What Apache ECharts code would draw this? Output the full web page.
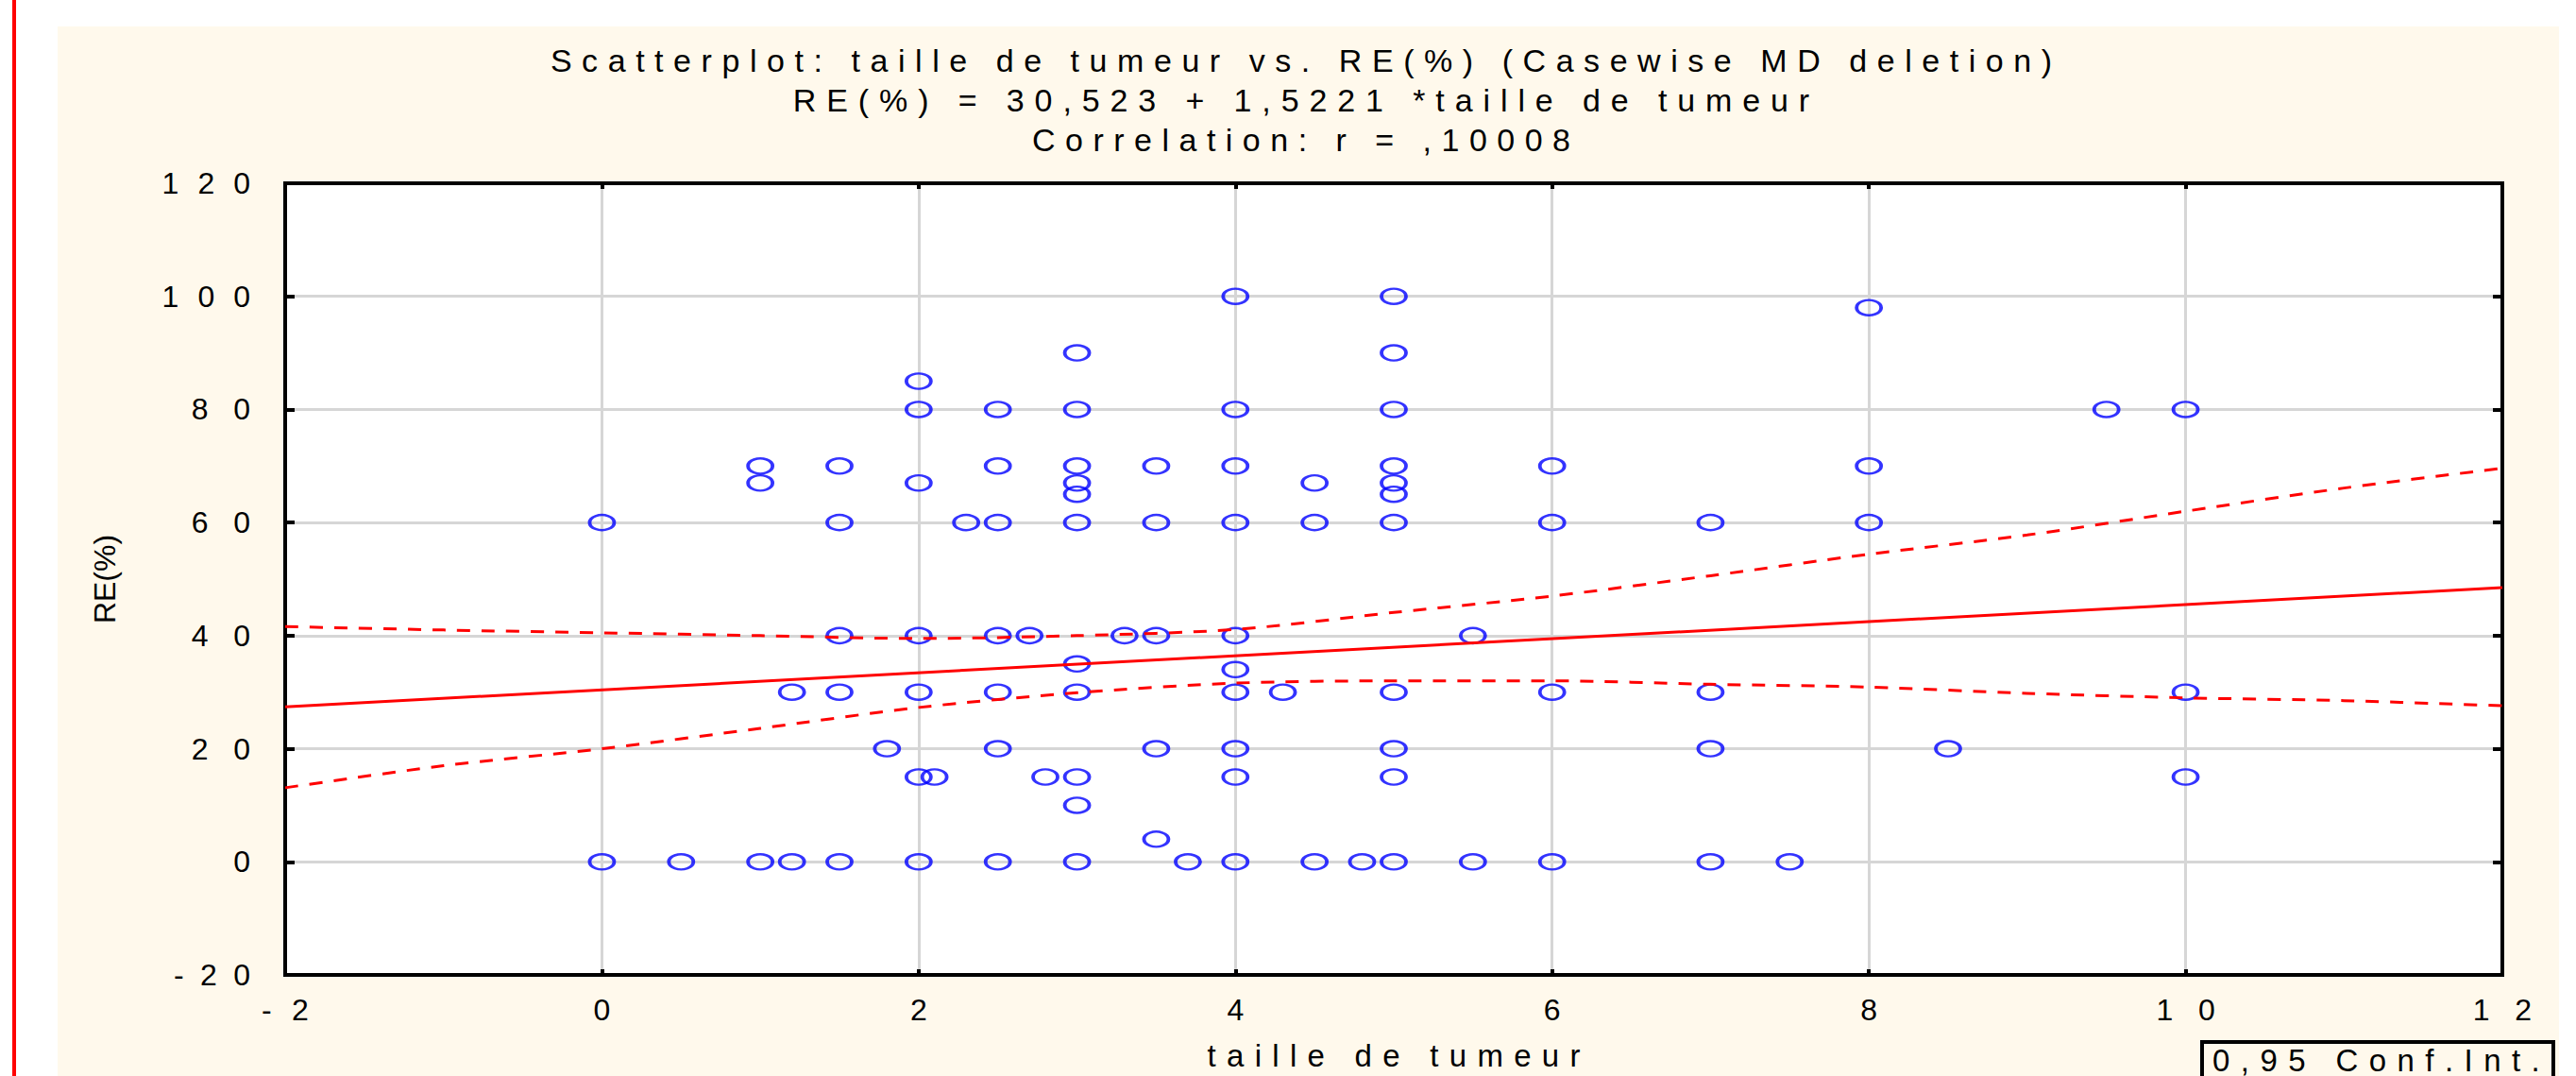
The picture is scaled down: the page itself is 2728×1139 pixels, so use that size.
<!DOCTYPE html>
<html>
<head>
<meta charset="utf-8">
<script src="https://cdn.jsdelivr.net/npm/echarts@6/dist/echarts.min.js"></script>
<style>
html,body{margin:0;padding:0;background:#ffffff;}
#chart{width:2728px;height:1139px;}
</style>
</head>
<body>
<div id="chart"></div>
<script>
// ---------- data ----------
const titleLines = [
  'Scatterplot: taille de tumeur vs. RE(%) (Casewise MD deletion)',
  'RE(%) = 30,523 + 1,5221 *taille de tumeur',
  'Correlation: r = ,10008'
];
const xAxisName = 'taille de tumeur';
const yAxisName = 'RE(%)';
const legendTitle = '0,95 Conf.Int.';
const xTicks = [-2, 0, 2, 4, 6, 8, 10, 12];
const yTicks = [-20, 0, 20, 40, 60, 80, 100, 120];

const tumorSize = [0,0, 0.5, 1,1,1, 1.2,1.2, 1.5,1.5,1.5,1.5,1.5, 1.8,
  2,2,2,2,2,2,2, 2.1, 2.3, 2.5,2.5,2.5,2.5,2.5,2.5,2.5, 2.7, 2.8,
  3,3,3,3,3,3,3,3,3,3,3, 3.3, 3.5,3.5,3.5,3.5,3.5, 3.7,
  4,4,4,4,4,4,4,4,4,4, 4.3, 4.5,4.5,4.5, 4.8,
  5,5,5,5,5,5,5,5,5,5,5, 5.5,5.5, 6,6,6,6, 7,7,7,7, 7.5, 8,8,8, 8.5, 9.5, 10,10,10];
const rePercent = [60,0, 0, 70,67,0, 30,0, 70,60,40,30,0, 20,
  85,80,67,40,30,15,0, 15, 60, 80,70,60,40,30,20,0, 40, 15,
  90,80,70,67,65,60,35,30,15,10,0, 40, 70,60,40,20,4, 0,
  100,80,70,60,40,34,30,20,15,0, 30, 67,60,0, 0,
  100,90,80,70,67,65,60,30,20,15,0, 40,0, 70,60,30,0, 60,30,20,0, 0, 98,70,60, 20, 80, 80,30,15];

const fitX = [-2, 12];
const fitY = [27.4, 48.5];

const bandX     = [-2,   -1,   0,    1,    2,    3,    4,    5,    6,    7,    8,    9,    10,   11,   12];
const bandUpper = [41.6, 41.0, 40.5, 40.0, 39.5, 40.0, 41.1, 44.1, 47.0, 50.6, 54.4, 57.8, 62.0, 66.1, 69.6];
const bandLower = [13.1, 17.0, 20.0, 23.6, 27.3, 29.9, 31.6, 32.0, 32.0, 31.4, 30.9, 29.8, 29.0, 28.5, 27.6];

// ---------- chart ----------
const FONT = '"Liberation Sans", Arial, sans-serif';
const STRETCH = 1.75;
const TITLE_STRETCH = 1.68;
const chart = echarts.init(document.getElementById('chart'), null, {renderer: 'svg', width: 2728, height: 1139});

const xMin = xTicks[0], xMax = xTicks[xTicks.length - 1], xInt = xTicks[1] - xTicks[0];
const yMin = yTicks[0], yMax = yTicks[yTicks.length - 1], yInt = yTicks[1] - yTicks[0];
const frameLine = {show: true, onZero: false, lineStyle: {color: '#000', width: 4}};
const gridLine = {show: true, showMinLine: false, showMaxLine: false, lineStyle: {color: '#D6D6D6', width: 3}};
const tickText = {color: '#000', fontFamily: FONT, fontSize: 32};

const option = {
  animation: false,
  backgroundColor: '#ffffff',
  title: titleLines.map((t, i) => ({
    text: t, left: 1378, top: 47 + 42 * i, textAlign: 'center', padding: 0,
    textStyle: {color: '#000', fontFamily: FONT, fontSize: 34, fontWeight: 'normal'}
  })),
  grid: {left: 302, top: 194, width: 2348, height: 838, show: true,
         backgroundColor: '#ffffff', borderColor: '#000', borderWidth: 4, outerBoundsMode: 'none'},
  xAxis: [
    {type: 'value', min: xMin, max: xMax, interval: xInt, position: 'bottom',
     name: xAxisName, nameLocation: 'middle', nameGap: 69,
     nameTextStyle: {color: '#000', fontFamily: FONT, fontSize: 33},
     axisLine: frameLine,
     axisTick: {show: true, inside: true, length: 6, lineStyle: {color: '#000', width: 4}},
     axisLabel: Object.assign({margin: 21}, tickText),
     splitLine: gridLine},
    {type: 'value', min: xMin, max: xMax, interval: xInt, position: 'top',
     axisLine: frameLine,
     axisTick: {show: true, inside: true, length: 6, lineStyle: {color: '#000', width: 4}},
     axisLabel: {show: false}, splitLine: {show: false}}
  ],
  yAxis: [
    {type: 'value', min: yMin, max: yMax, interval: yInt, position: 'left',
     name: yAxisName, nameLocation: 'middle', nameGap: 175, nameRotate: 90,
     nameTextStyle: {color: '#000', fontFamily: FONT, fontSize: 32},
     axisLine: frameLine,
     axisTick: {show: true, inside: true, length: 10, lineStyle: {color: '#000', width: 4}},
     axisLabel: Object.assign({margin: 37}, tickText),
     splitLine: gridLine},
    {type: 'value', min: yMin, max: yMax, interval: yInt, position: 'right',
     axisLine: frameLine,
     axisTick: {show: true, inside: true, length: 10, lineStyle: {color: '#000', width: 4}},
     axisLabel: {show: false}, splitLine: {show: false}}
  ],
  series: [
    {type: 'scatter', xAxisIndex: 0, yAxisIndex: 0,
     data: tumorSize.map((x, i) => [x, rePercent[i]]),
     symbol: 'circle', symbolSize: [26, 16],
     itemStyle: {color: 'rgba(0,0,0,0)', borderColor: '#0000FF', borderWidth: 3},
     emphasis: {disabled: true}},
    {type: 'line', xAxisIndex: 0, yAxisIndex: 0,
     data: fitX.map((x, i) => [x, fitY[i]]),
     symbol: 'none', lineStyle: {color: '#FF0000', width: 3}, itemStyle: {color: '#FF0000'}},
    {type: 'line', xAxisIndex: 0, yAxisIndex: 0,
     data: bandX.map((x, i) => [x, bandUpper[i]]),
     symbol: 'none', smooth: 0.3, lineStyle: {color: '#FF0000', width: 3, type: [14, 12]}, itemStyle: {color: '#FF0000'}},
    {type: 'line', xAxisIndex: 0, yAxisIndex: 0,
     data: bandX.map((x, i) => [x, bandLower[i]]),
     symbol: 'none', smooth: 0.3, lineStyle: {color: '#FF0000', width: 3, type: [14, 12]}, itemStyle: {color: '#FF0000'}}
  ],
  graphic: [
    {type: 'rect', z: -100, silent: true, shape: {x: 61, y: 28, width: 2649, height: 1111}, style: {fill: '#FFF9EC'}},
    {type: 'rect', z: -100, silent: true, shape: {x: 13, y: 0, width: 4, height: 1139}, style: {fill: '#FF0000'}},
    {type: 'rect', z: 100, silent: true, shape: {x: 2332, y: 1103, width: 372, height: 80},
     style: {fill: '#FFF9EC', stroke: '#000', lineWidth: 4}},
    {type: 'text', z: 101, silent: true, x: 2343, y: 1106,
     style: {text: legendTitle, font: '33px "Liberation Sans", Arial, sans-serif', fill: '#000', verticalAlign: 'top'}}
  ]
};
chart.setOption(option);

// The reference uses a horizontally stretched bitmap font:
// widen each text with letter spacing so it spans about "stretch" times its natural width.
function stretchTexts() {
  document.querySelectorAll('#chart svg text').forEach(t => {
    if (t.getAttribute('data-st')) return;
    const str = t.textContent || '';
    if (!str) return;
    if (str.length < 2 || str === yAxisName) { t.setAttribute('data-st', '1'); return; }
    const w = t.getComputedTextLength();
    if (!w) return;
    const k = titleLines.indexOf(str) >= 0 ? TITLE_STRETCH : STRETCH;
    const s = (k - 1) * w / (str.length - 1);
    t.style.letterSpacing = s.toFixed(2) + 'px';
    const anchor = t.getAttribute('text-anchor') || getComputedStyle(t).textAnchor || 'start';
    const x = parseFloat(t.getAttribute('x') || '0');
    if (anchor === 'end') t.setAttribute('x', (x + s).toFixed(2));
    else if (anchor === 'middle') t.setAttribute('x', (x + s / 2).toFixed(2));
    t.setAttribute('data-st', '1');
  });
}
chart.on('finished', stretchTexts);
stretchTexts();
requestAnimationFrame(stretchTexts);
setTimeout(stretchTexts, 50);
</script>
</body>
</html>
